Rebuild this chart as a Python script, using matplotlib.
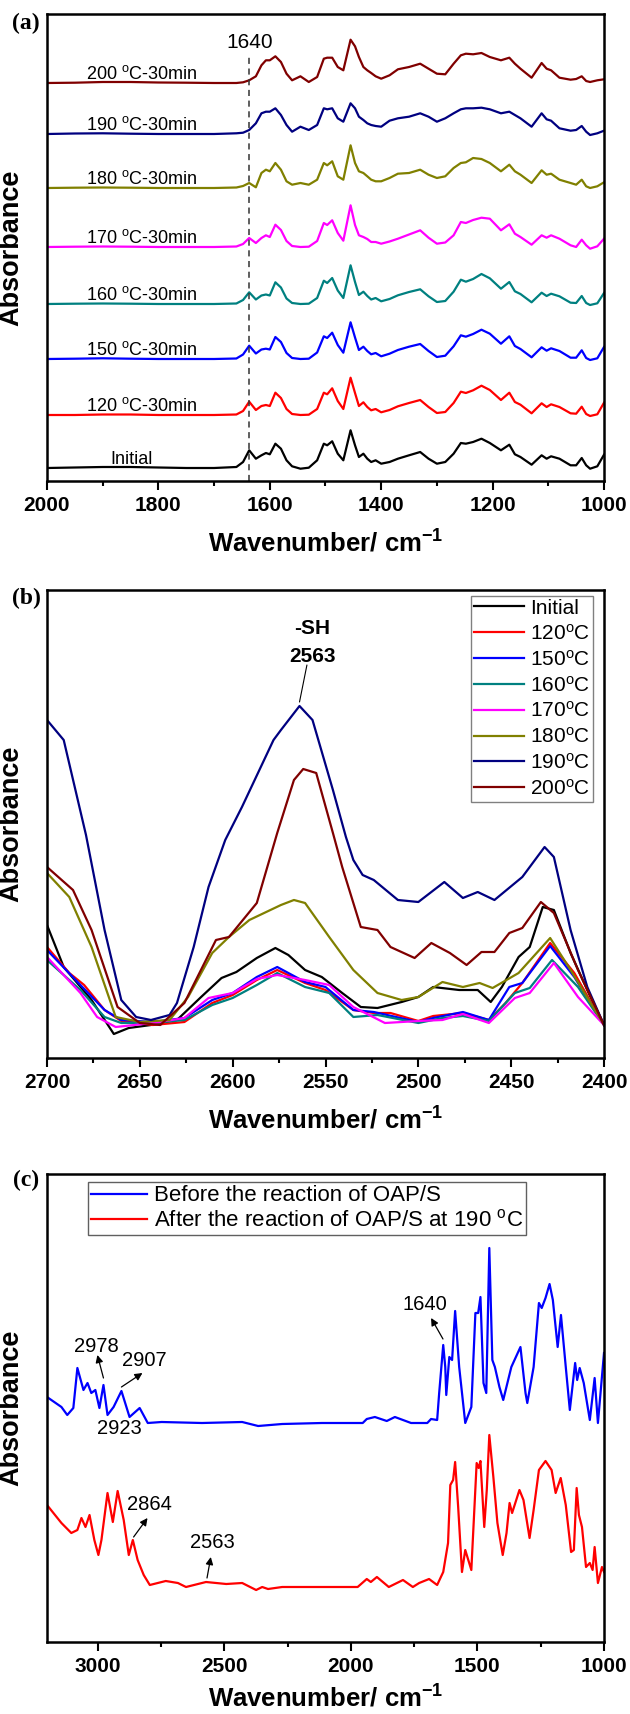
import matplotlib
matplotlib.use("Agg")
import matplotlib.pyplot as plt
from matplotlib.ticker import MultipleLocator

plt.rcParams['font.family'] = ['Liberation Sans', 'DejaVu Sans']
plt.rcParams['mathtext.fontset'] = 'custom'
plt.rcParams['mathtext.rm'] = 'Liberation Sans'
plt.rcParams['mathtext.it'] = 'Liberation Sans:italic'
plt.rcParams['mathtext.bf'] = 'Liberation Sans:bold'
plt.rcParams['mathtext.default'] = 'regular'

# ---------------- Panel (a) data: stacked spectra 2000-1000 cm-1 ----------------
wn_a = [2000, 1950, 1900, 1850, 1800, 1750, 1700, 1660, 1648, 1637, 1625, 1615, 1607, 1600,
        1590, 1580, 1570, 1560, 1545, 1530, 1515, 1503, 1497, 1488, 1478, 1468, 1455, 1447,
        1440, 1432, 1425, 1418, 1410, 1400, 1385, 1370, 1350, 1330, 1315, 1300, 1285, 1270,
        1257, 1248, 1235, 1220, 1205, 1185, 1170, 1160, 1150, 1130, 1112, 1103, 1095, 1080,
        1060, 1050, 1040, 1032, 1025, 1012, 1000]
a_initial = [0, 0.5, 1, 1, 0.5, 0, 0, 1, 6, 17.7, 9.3, 12.7, 15, 13.7, 24.3, 19.3, 7.7, 1.7, -0.7,
             0.3, 7.7, 24.3, 22.7, 26.7, 14.3, 7.7, 37.7, 22.7, 11, 14.3, 9.3, 6, 7.7, 4.3, 6,
             9.3, 12.7, 16, 9.3, 4.3, 6, 14.3, 25, 24.3, 26, 29.3, 25, 17.7, 23.3, 13.7, 11, 3.3,
             12.7, 9.3, 11.7, 9.3, 2.7, 2.7, 10, 2.7, -0.7, 1.7, 13.3]
a_120 = [0, 0, 0.5, 0.5, 0, 0, 0, 0.5, 4, 13.3, 5, 9, 10, 9, 22.3, 17, 6, 1, 0, 0.3, 6, 22.3,
         20.7, 26.7, 14, 6, 37.3, 22, 9, 12.7, 8, 4.7, 6, 2.7, 5, 8.7, 12, 15, 8, 2, 3, 12,
         23.3, 22, 24.7, 29.3, 25, 15, 22.3, 13, 10.3, 1.7, 11.7, 8, 10.7, 8, 1.7, 1.3, 8.3, 1,
         -1, 0.7, 12.3]
a_150 = [0, 0.3, 0.7, 0.3, 0, 0, 0, 0.5, 4.5, 13.3, 5.5, 9.5, 10.3, 9.5, 22, 17, 6, 1, 0, 0.3,
         6.5, 22.7, 21, 26.3, 14, 6.3, 36.7, 21.5, 9, 12.3, 8, 4.7, 6, 2.7, 5.3, 9, 12.3, 15, 8,
         2, 3.3, 12.7, 23.7, 22.3, 25, 29.3, 25.3, 15.3, 22.7, 13, 10, 1.7, 11.7, 8.3, 10.7, 8,
         1.3, 1.3, 8.7, 1, -1, 0.7, 12]
a_160 = [0, 0.3, 0.5, 0.3, 0, 0, 0, 0.5, 4, 11.7, 4.5, 8.5, 9.5, 8.5, 21.7, 16.5, 5.5, 1, 0, 0.3,
         6, 23.3, 21, 26, 13.5, 6, 38.7, 22, 9, 12.3, 8, 4.5, 6, 2.7, 5, 8.7, 12, 14.7, 7.7, 2,
         3, 12.3, 24.3, 22.3, 25, 30, 25.7, 15.3, 22, 12.7, 10, 1.7, 11.3, 8, 10.3, 7.7, 1.3, 1,
         8, 1, -1, 0.7, 11]
a_170 = [0, 0.3, 0.5, 0.3, 0, 0, 0, 0.5, 3, 9, 4, 9, 11.7, 10, 22.3, 17, 6, 1, 0, 0.3, 6, 24,
         22, 26.7, 14, 6.3, 41.7, 22, 11.7, 10, 8, 5, 5, 3.3, 5.5, 8.3, 12.5, 16.7, 9.3, 3.3,
         4.5, 11.7, 25, 24, 27, 29.3, 28.3, 16.7, 22.7, 13.3, 10, 2.3, 11.7, 9.3, 11.7, 8.3,
         1.7, 0, 7.3, 1.7, -1.7, 0.7, 8.3]
a_180 = [0, 0.3, 0.5, 0.3, 0, 0, 0, 0.5, 2, 5, 0.7, 15, 18.3, 16.7, 25, 18.3, 6.7, 3.3, 5, 3.3,
         8.3, 25, 22.7, 26.7, 11.7, 8.3, 42.7, 25, 16.7, 15, 11.7, 8.3, 6.7, 6.7, 10, 14.3, 15,
         18.3, 13.3, 10, 11.7, 20, 25, 25.7, 30, 29, 25, 16.7, 23.3, 16.7, 13.3, 5, 17.7, 13.3,
         14.3, 8.3, 5, 3.3, 8.3, 1.7, 0, 1.7, 5.7]
a_190 = [0, 0.5, 0.7, 0.3, 0, 0, 0, 0.7, 1.3, 4, 10.7, 20.7, 22.3, 22.3, 25.7, 19, 9, 2.3, 7.3,
         4, 9, 25.7, 24.7, 25.7, 15.7, 12.3, 30.7, 25.7, 17.3, 14, 10.7, 9, 8, 7.3, 13.3, 15.7,
         17.3, 20.7, 17.3, 12.3, 15.7, 20.7, 24.7, 25.7, 25.7, 26.3, 24.7, 20.7, 22.3, 19,
         15.7, 7.3, 20.7, 14.7, 13.3, 5.7, 3.3, 4, 8, 2.3, -1, 0.7, 3.3]
a_200 = [0, 0.3, 1, 1, 0.5, 0.3, 0, 0, 0.7, 2.7, 6.7, 17.7, 22.7, 22.7, 26.7, 21, 9.3, 2.7, 6.7,
         1, 6, 24.3, 25.3, 25.3, 16, 12.7, 43.3, 36.7, 26, 16, 12.7, 10, 6.7, 4.3, 7.7, 13.7,
         16, 19.3, 14.3, 9.3, 8.7, 19.3, 27.7, 29.3, 28.7, 30, 26, 22.7, 25.3, 19.3, 14.3, 5.3,
         20, 14.3, 12.7, 5.3, 3.3, 4, 6.7, 2, 1, 2.7, 3.7]
a_series = [a_initial, a_120, a_150, a_160, a_170, a_180, a_190, a_200]
a_offsets = [13, 66, 122, 177, 234, 293, 347, 398]
a_labels = ['Initial', '120 $^{o}$C-30min', '150 $^{o}$C-30min', '160 $^{o}$C-30min',
            '170 $^{o}$C-30min', '180 $^{o}$C-30min', '190 $^{o}$C-30min', '200 $^{o}$C-30min']
a_marker_wn = 1637
a_marker_text = '1640'

colors = ['#000000', '#ff0000', '#0000ff', '#008080', '#ff00ff', '#808000', '#000080', '#800000']

# ---------------- Panel (b) data: 2700-2400 cm-1 ----------------
b_wn_190 = [2700, 2691, 2679, 2669, 2660, 2652, 2644, 2634, 2630, 2621, 2613, 2604, 2595, 2578,
            2574, 2564, 2557, 2546, 2539, 2535, 2530, 2524, 2511, 2500, 2486, 2476, 2468, 2459,
            2444, 2432, 2427, 2418, 2409, 2400]
b_y_190 = [338, 318, 223, 128, 58, 41, 38, 43, 55, 111, 171, 218, 251, 318, 328, 352, 338, 268,
           221, 198, 183, 178, 158, 156, 176, 160, 166, 158, 181, 211, 201, 128, 71, 33]
b_wn_200 = [2700, 2686, 2676, 2662, 2650, 2639, 2626, 2609, 2602, 2587, 2576, 2567, 2562, 2555,
            2546, 2541, 2531, 2522, 2515, 2502, 2493, 2483, 2474, 2466, 2459, 2451, 2444, 2434,
            2427, 2414, 2400]
b_y_200 = [191, 168, 128, 51, 35, 33, 55, 118, 121, 155, 225, 278, 289, 285, 225, 191, 131, 128,
           111, 100, 115, 105, 93, 106, 106, 125, 130, 156, 145, 88, 33]
b_wn_180 = [2700, 2688, 2676, 2663, 2650, 2634, 2624, 2611, 2602, 2591, 2574, 2567, 2561, 2548,
            2535, 2522, 2509, 2500, 2487, 2476, 2467, 2460, 2446, 2429, 2418, 2400]
b_y_180 = [185, 161, 111, 41, 36, 38, 61, 105, 121, 138, 153, 158, 155, 121, 88, 65, 58, 61, 76,
           71, 75, 70, 85, 120, 88, 33]
b_wn_init = [2700, 2691, 2676, 2664, 2656, 2644, 2630, 2617, 2606, 2598, 2587, 2577, 2570, 2561,
             2552, 2541, 2531, 2522, 2509, 2500, 2492, 2478, 2468, 2461, 2455, 2446, 2440, 2433,
             2427, 2418, 2409, 2400]
b_y_init = [133, 91, 58, 24, 30, 33, 38, 61, 80, 86, 100, 110, 103, 88, 81, 65, 51, 50, 56, 61,
            71, 68, 68, 56, 71, 101, 111, 151, 148, 105, 68, 33]
b_wn_120 = [2700, 2688, 2680, 2669, 2660, 2643, 2626, 2611, 2600, 2587, 2576, 2561, 2550, 2535,
            2524, 2515, 2500, 2492, 2476, 2462, 2453, 2444, 2438, 2429, 2416, 2400]
b_y_120 = [111, 85, 73, 48, 37, 33, 36, 55, 63, 78, 88, 75, 68, 48, 45, 45, 37, 42, 45, 38, 55,
           75, 91, 115, 85, 33]
b_wn_150 = [2700, 2682, 2669, 2660, 2643, 2626, 2611, 2600, 2587, 2576, 2561, 2550, 2535, 2524,
            2500, 2492, 2476, 2462, 2451, 2444, 2429, 2416, 2400]
b_y_150 = [108, 73, 48, 38, 36, 40, 58, 65, 81, 91, 76, 71, 48, 46, 36, 40, 46, 38, 71, 75, 112,
           81, 33]
b_wn_160 = [2700, 2682, 2669, 2660, 2643, 2626, 2611, 2600, 2587, 2576, 2561, 2548, 2535, 2522,
            2500, 2487, 2476, 2462, 2448, 2440, 2428, 2414, 2400]
b_y_160 = [98, 68, 41, 35, 35, 38, 53, 60, 73, 85, 71, 65, 41, 43, 35, 40, 42, 37, 65, 70, 98,
           71, 33]
b_wn_170 = [2700, 2682, 2673, 2663, 2643, 2626, 2613, 2600, 2587, 2576, 2561, 2548, 2535, 2518,
            2500, 2487, 2476, 2462, 2448, 2440, 2427, 2414, 2400]
b_y_170 = [101, 65, 41, 31, 35, 40, 60, 65, 79, 83, 78, 73, 51, 35, 37, 38, 44, 35, 60, 65, 95,
           61, 33]
b_curves = [(b_wn_init, b_y_init), (b_wn_120, b_y_120), (b_wn_150, b_y_150),
            (b_wn_160, b_y_160), (b_wn_170, b_y_170), (b_wn_180, b_y_180),
            (b_wn_190, b_y_190), (b_wn_200, b_y_200)]
b_labels = ['Initial', '120$^{o}$C', '150$^{o}$C', '160$^{o}$C', '170$^{o}$C', '180$^{o}$C',
            '190$^{o}$C', '200$^{o}$C']

# ---------------- Panel (c) data: 3200-1000 cm-1 ----------------
c_wn_before = [3200, 3143, 3120, 3096, 3080, 3056, 3040, 3025, 3009, 2993, 2977, 2961, 2937,
               2906, 2874, 2834, 2802, 2747, 2588, 2429, 2366, 2271, 2114, 1953, 1937, 1905,
               1858, 1826, 1762, 1698, 1683, 1659, 1651, 1635, 1627, 1623, 1611, 1600, 1588,
               1572, 1548, 1524, 1508, 1497, 1488, 1476, 1465, 1453, 1441, 1431, 1413, 1398,
               1366, 1330, 1310, 1303, 1278, 1257, 1246, 1231, 1215, 1202, 1183, 1170, 1151,
               1135, 1114, 1106, 1096, 1080, 1056, 1037, 1024, 1000]
c_y_before = [245, 235, 227, 234, 274, 252, 259, 249, 252, 234, 257, 227, 235, 251, 225, 234,
              219, 220, 219, 220, 216, 218, 219, 219, 223, 225, 221, 225, 219, 219, 223, 222,
              249, 297, 275, 247, 285, 282, 331, 275, 219, 235, 329, 329, 345, 259, 249, 394,
              282, 275, 255, 242, 275, 295, 249, 239, 275, 339, 334, 344, 358, 342, 295, 327,
              275, 232, 279, 262, 274, 259, 222, 264, 219, 289]
c_wn_after = [3200, 3143, 3104, 3080, 3064, 3048, 3032, 3013, 2997, 2985, 2961, 2940, 2921,
              2897, 2877, 2861, 2842, 2818, 2794, 2731, 2683, 2651, 2572, 2492, 2429, 2374,
              2350, 2327, 2271, 2114, 1973, 1937, 1921, 1897, 1850, 1794, 1755, 1730, 1691,
              1659, 1635, 1616, 1607, 1596, 1588, 1576, 1561, 1548, 1524, 1503, 1495, 1488,
              1473, 1463, 1453, 1437, 1421, 1400, 1385, 1373, 1363, 1334, 1318, 1294, 1278,
              1257, 1231, 1207, 1191, 1171, 1151, 1130, 1119, 1108, 1099, 1087, 1071, 1056,
              1045, 1037, 1024, 1008, 1000]
c_y_after = [137, 119, 109, 112, 124, 115, 127, 102, 87, 102, 149, 120, 151, 122, 87, 102, 82,
             67, 57, 61, 59, 55, 60, 58, 59, 52, 55, 53, 55, 55, 55, 63, 60, 65, 55, 62, 55, 59,
             63, 57, 70, 99, 157, 162, 180, 135, 70, 92, 72, 179, 174, 181, 115, 152, 207, 165,
             119, 87, 109, 139, 129, 152, 142, 104, 132, 172, 181, 172, 149, 164, 137, 90, 92,
             154, 127, 115, 75, 79, 72, 95, 59, 75, 70]
c_labels = ['Before the reaction of OAP/S', 'After the reaction of OAP/S at 190 $^{o}$C']
# annotations: (text, text_wn, text_y, arrow_tail_wn, arrow_tail_y, arrow_head_wn, arrow_head_y)
c_notes = [('1640', 1707, 337, 1636, 303, 1683, 324),
           ('2978', 3006, 296, 2977, 264, 3001, 287),
           ('2907', 2817, 282, 2906, 255, 2823, 269),
           ('2864', 2797, 138, 2858, 105, 2803, 124),
           ('2563', 2548, 100, 2568, 64, 2553, 85)]
c_plain_notes = [('2923', 2916, 213)]

# ---------------- Figure ----------------
W, H = 630, 1714
fig = plt.figure(figsize=(W / 100, H / 100), dpi=100)

def px_axes(top, bottom, left=47, right=604):
    return fig.add_axes([left / W, 1 - bottom / H, (right - left) / W, (bottom - top) / H])

TICK_FS = 15
XLABEL_FS = 18.5
YLABEL_FS = 19.5

def style_axes(ax, xlim, major, minor, label_y):
    ax.set_xlim(*xlim)
    ax.xaxis.set_major_locator(MultipleLocator(major))
    ax.xaxis.set_minor_locator(MultipleLocator(minor))
    ax.tick_params(axis='x', which='major', direction='out', length=6.5, width=1.5,
                   labelsize=TICK_FS, pad=4, top=False)
    ax.tick_params(axis='x', which='minor', direction='out', length=3.5, width=1.5, top=False)
    for lab in ax.get_xticklabels():
        lab.set_fontweight('bold')
    ax.set_yticks([])
    for s in ax.spines.values():
        s.set_linewidth(1.8)
    ax.set_xlabel('Wavenumber/ cm$^{\\mathbf{-1}}$', fontsize=XLABEL_FS, fontweight='bold')
    ax.xaxis.set_label_coords(0.5, label_y)
    ax.set_ylabel('Absorbance', fontsize=YLABEL_FS, fontweight='bold')
    ax.yaxis.set_label_coords(-0.040, 0.5)

# ---- Panel (a)
axa = px_axes(14, 481)
for ser, off, col, lab in zip(a_series, a_offsets, colors, a_labels):
    axa.plot(wn_a, [v + off for v in ser], color=col, lw=1.6)
    xs = 1886 if lab == 'Initial' else 1930
    axa.text(xs, off + 9, lab, fontsize=13, ha='left', va='center')
axa.set_ylim(0, 467)
axa.vlines(a_marker_wn, 0, 426, colors='#333333', linestyles=(0, (4, 3)), lw=1.1)
axa.text(a_marker_wn, 439, a_marker_text, fontsize=15, ha='center', va='center')
style_axes(axa, (2000, 1000), 200, 100, -0.105)

# ---- Panel (b)
axb = px_axes(590, 1058)
for (xw, yv), col, lab in zip(b_curves, colors, b_labels):
    axb.plot(xw, yv, color=col, lw=1.6, label=lab)
axb.set_ylim(0, 468)
axb.text(2557, 430, '-SH', fontsize=15, fontweight='bold', ha='center', va='center')
axb.text(2557, 402, '2563', fontsize=15, fontweight='bold', ha='center', va='center')
axb.annotate('', xy=(2564, 356), xytext=(2560, 393),
             arrowprops=dict(arrowstyle='-', lw=0.8, color='black', shrinkA=0, shrinkB=0))
legb = axb.legend(loc='upper right', bbox_to_anchor=(0.981, 0.988), fontsize=15,
                  frameon=True, fancybox=False, edgecolor='#808080', framealpha=1,
                  handlelength=2.4, handletextpad=0.3, labelspacing=0.28, borderpad=0.15,
                  borderaxespad=0)
legb.get_frame().set_linewidth(1.0)
style_axes(axb, (2700, 2400), 50, 25, -0.105)

# ---- Panel (c)
axc = px_axes(1174, 1642)
axc.plot(c_wn_before, c_y_before, color='#0000ff', lw=1.6, label=c_labels[0])
axc.plot(c_wn_after, c_y_after, color='#ff0000', lw=1.6, label=c_labels[1])
axc.set_ylim(0, 468)
for txt, tx, ty, ax_, ay_, hx, hy in c_notes:
    axc.text(tx, ty, txt, fontsize=14.5, ha='center', va='center')
    axc.annotate('', xy=(hx, hy), xytext=(ax_, ay_),
                 arrowprops=dict(arrowstyle='-|>', lw=0.9, color='black',
                                 mutation_scale=11, shrinkA=0, shrinkB=0))
for txt, tx, ty in c_plain_notes:
    axc.text(tx, ty, txt, fontsize=14.5, ha='center', va='center')
legc = axc.legend(loc='upper left', bbox_to_anchor=(0.0736, 0.983), fontsize=16,
                  frameon=True, fancybox=False, edgecolor='#606060', framealpha=1,
                  handlelength=2.5, handletextpad=0.3, labelspacing=0.15, borderpad=0.15,
                  borderaxespad=0)
legc.get_frame().set_linewidth(1.0)
style_axes(axc, (3200, 1000), 500, 250, -0.092)

# panel letters
for lbl, y in [('(a)', 23), ('(b)', 598), ('(c)', 1180)]:
    fig.text(26 / W, 1 - y / H, lbl, fontsize=17, fontweight='bold',
             family='Liberation Serif', ha='center', va='center')

fig.savefig('out.png', dpi=100)
